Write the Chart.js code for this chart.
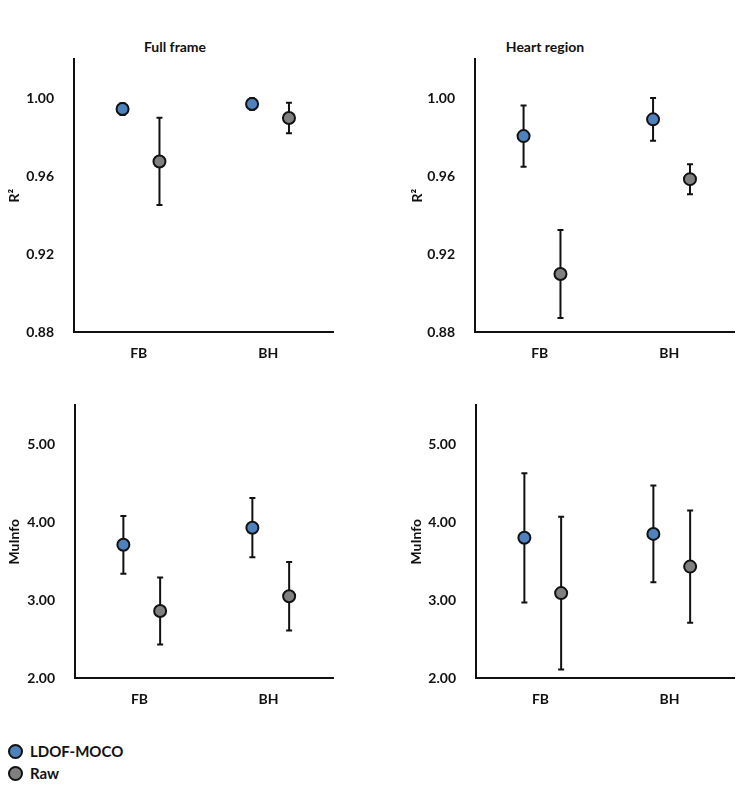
<!DOCTYPE html>
<html>
<head>
<meta charset="utf-8">
<script src="https://cdn.jsdelivr.net/npm/chart.js@4/dist/chart.umd.min.js"></script>
<style>
  body { margin: 0; background: #fff; font-family: Lato, sans-serif; }
  #page { position: relative; width: 749px; height: 789px; }
  canvas { position: absolute; }
  .colTitle { position: absolute; top: 38px; font-weight: bold; font-size: 14px; color: #111; transform: translateX(-50%); white-space: nowrap; }
  .leg { position: absolute; left: 8px; font-weight: bold; font-size: 15px; color: #111; display: flex; align-items: center; }
  .dot { width: 11px; height: 11px; border-radius: 50%; border: 2px solid #111; margin-right: 7px; }
</style>
</head>
<body>
<div id="page">
  <div class="colTitle" style="left:175px">Full frame</div>
  <div class="colTitle" style="left:545px">Heart region</div>
  <canvas id="c1" width="374" height="341" style="left:0;top:39px"></canvas>
  <canvas id="c2" width="374" height="341" style="left:375px;top:39px"></canvas>
  <canvas id="c3" width="374" height="341" style="left:0;top:385px"></canvas>
  <canvas id="c4" width="374" height="341" style="left:375px;top:385px"></canvas>
  <div class="leg" style="top:742px"><span class="dot" style="background:#4f81bd"></span>LDOF-MOCO</div>
  <div class="leg" style="top:764px"><span class="dot" style="background:#808080"></span>Raw</div>
</div>
<script>
// categories and tick labels
const categories = ['FB', 'BH'];
const xTickPos = [0.5, 1.5];
const r2Ticks = [0.88, 0.92, 0.96, 1.00];
const miTicks = [2, 3, 4, 5];

// Full frame, R2
const fullR2Moco = [0.9945, 0.9971];
const fullR2MocoErr = [0.003, 0.003];
const fullR2Raw = [0.9676, 0.9899];
const fullR2RawErr = [0.0224, 0.0078];

// Heart region, R2
const heartR2Moco = [0.9806, 0.9892];
const heartR2MocoErr = [0.0157, 0.011];
const heartR2Raw = [0.9098, 0.9585];
const heartR2RawErr = [0.0226, 0.0077];

// Full frame, MuInfo
const fullMiMoco = [3.71, 3.93];
const fullMiMocoErr = [0.37, 0.38];
const fullMiRaw = [2.86, 3.05];
const fullMiRawErr = [0.43, 0.44];

// Heart region, MuInfo
const heartMiMoco = [3.80, 3.85];
const heartMiMocoErr = [0.83, 0.62];
const heartMiRaw = [3.09, 3.43];
const heartMiRawErr = [0.98, 0.72];

const mocoColor = '#4f81bd';
const rawColor = '#808080';
const inkColor = '#111';
const fontFam = 'Lato, sans-serif';

// vertical error bars with caps, drawn under the points
const errorBars = {
  id: 'errorBars',
  beforeDatasetsDraw(chart) {
    const ctx = chart.ctx;
    const xs = chart.scales.x, ys = chart.scales.y;
    ctx.save();
    ctx.strokeStyle = inkColor;
    ctx.lineWidth = 2;
    chart.data.datasets.forEach(ds => {
      ds.data.forEach((p, i) => {
        const x = xs.getPixelForValue(p.x);
        const top = ys.getPixelForValue(p.y + ds.err[i]);
        const bot = ys.getPixelForValue(p.y - ds.err[i]);
        ctx.beginPath();
        ctx.moveTo(x, top); ctx.lineTo(x, bot);
        ctx.moveTo(x - 3, top); ctx.lineTo(x + 3, top);
        ctx.moveTo(x - 3, bot); ctx.lineTo(x + 3, bot);
        ctx.stroke();
      });
    });
    ctx.restore();
  }
};

function points(vals, shift) {
  return vals.map((v, i) => ({ x: xTickPos[i] + shift, y: v }));
}

function makePanel(id, opt) {
  new Chart(document.getElementById(id).getContext('2d'), {
    type: 'scatter',
    data: {
      datasets: [
        { label: 'LDOF-MOCO', data: points(opt.moco, -0.125), err: opt.mocoErr,
          backgroundColor: mocoColor, borderColor: inkColor, borderWidth: 2, pointRadius: 6 },
        { label: 'Raw', data: points(opt.raw, 0.16), err: opt.rawErr,
          backgroundColor: rawColor, borderColor: inkColor, borderWidth: 2, pointRadius: 6 }
      ]
    },
    options: {
      responsive: false,
      animation: false,
      layout: { padding: { top: 0, right: opt.padRight, left: 0, bottom: 0 } },
      plugins: { legend: { display: false }, tooltip: { enabled: false } },
      scales: {
        x: {
          type: 'linear', min: 0, max: 2,
          grid: { display: false },
          border: { display: true, color: inkColor, width: 2 },
          afterBuildTicks: axis => { axis.ticks = xTickPos.map(v => ({ value: v })); },
          afterFit: axis => { axis.height = 48; },
          ticks: {
            padding: 5, color: inkColor,
            font: { family: fontFam, size: 14, weight: 'bold' },
            callback: (v) => categories[xTickPos.indexOf(v)]
          }
        },
        y: {
          min: opt.min, max: opt.max,
          grid: { display: false },
          border: { display: true, color: inkColor, width: 2 },
          afterBuildTicks: axis => { axis.ticks = opt.ticks.map(v => ({ value: v })); },
          afterFit: axis => { axis.width = opt.axisW; },
          ticks: {
            padding: 12, color: inkColor,
            font: { family: fontFam, size: 14, weight: 'bold' },
            callback: v => v.toFixed(2)
          },
          title: {
            display: true, text: opt.title, color: inkColor,
            padding: { top: opt.titlePad, bottom: 0 },
            font: { family: fontFam, size: 14, weight: 'bold' }
          }
        }
      }
    },
    plugins: [errorBars]
  });
}

makePanel('c1', { moco: fullR2Moco, mocoErr: fullR2MocoErr, raw: fullR2Raw, rawErr: fullR2RawErr,
  min: 0.88, max: 1.02, ticks: r2Ticks, title: 'R²', axisW: 74, titlePad: 6, padRight: 41 });
makePanel('c2', { moco: heartR2Moco, mocoErr: heartR2MocoErr, raw: heartR2Raw, rawErr: heartR2RawErr,
  min: 0.88, max: 1.02, ticks: r2Ticks, title: 'R²', axisW: 100, titlePad: 34, padRight: 15 });
makePanel('c3', { moco: fullMiMoco, mocoErr: fullMiMocoErr, raw: fullMiRaw, rawErr: fullMiRawErr,
  min: 2, max: 5.5, ticks: miTicks, title: 'MuInfo', axisW: 75, titlePad: 6, padRight: 41 });
makePanel('c4', { moco: heartMiMoco, mocoErr: heartMiMocoErr, raw: heartMiRaw, rawErr: heartMiRawErr,
  min: 2, max: 5.5, ticks: miTicks, title: 'MuInfo', axisW: 101, titlePad: 33, padRight: 15 });
</script>
</body>
</html>
